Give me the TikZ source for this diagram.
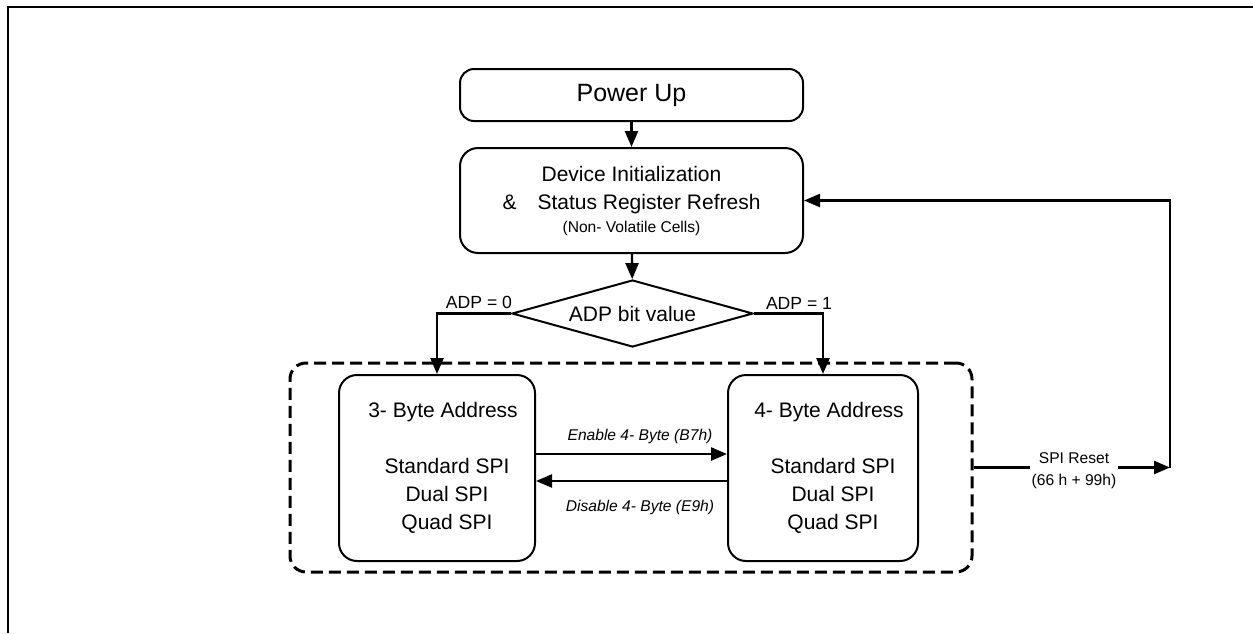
\documentclass[tikz,border=0pt]{standalone}
\usepackage{fontspec}
\setmainfont{Liberation Sans}
\usetikzlibrary{shapes.geometric,arrows.meta,calc}

\tikzset{every picture/.style={line width=1pt}}
\tikzset{
  arr/.style={line width=1.2pt, -{Triangle[length=8pt,width=6.5pt]}},
  flowbox/.style={draw, rounded corners=9pt, align=center, inner sep=0pt, font=\fontsize{10.5}{14}\selectfont},
  lbl/.style={inner sep=0.75pt, align=center, font=\fontsize{7.8}{11}\selectfont},
  adplbl/.style={inner sep=0pt, font=\fontsize{8.8}{11}\selectfont}
}

\begin{document}
\begin{tikzpicture}[x=0.5pt,y=0.5pt,yscale=-1,xscale=1]
\useasboundingbox (0,0) rectangle (1253,633);

%Frame
\draw (7.5,633) -- (7.5,6.5) -- (1253,6.5) ;

%Shape: Terminator
\node (pwr) [draw, rounded corners=7pt, minimum width=171.5pt, minimum height=26pt, inner sep=0pt, font=\fontsize{12.5}{14}\selectfont] at (631.5,95) {Power Up};
%Shape: Process
\node (init) [flowbox, minimum width=171.5pt, minimum height=52.5pt] at (631.5,200.5) {Device Initialization\\ \&\quad Status Register Refresh\\[-2.5pt] {\fontsize{7.8}{10}\selectfont (Non- Volatile Cells)}};
%Shape: Decision
\node (adp) [draw, diamond, aspect=3.6, minimum width=120.5pt, minimum height=33.5pt, inner sep=0pt, font=\fontsize{10.5}{14}\selectfont] at (632.5,313.5) {ADP bit value};
%Shape: Group
\node (grp) [draw, dash pattern=on 6pt off 3pt, line width=1.5pt, rounded corners=8pt, minimum width=341pt, minimum height=104.5pt] at (631,467.5) {};
%Shape: Process
\node (b3) [flowbox, minimum width=98pt, minimum height=93pt] at (437,468) {\hspace{6pt}3- Byte Address\\[14pt] \hspace{10pt}Standard SPI\\ \hspace{10pt}Dual SPI\\ \hspace{10pt}Quad SPI};
%Shape: Process
\node (b4) [flowbox, minimum width=95pt, minimum height=93pt] at (823,468) {\hspace{6pt}4- Byte Address\\[14pt] \hspace{10pt}Standard SPI\\ \hspace{10pt}Dual SPI\\ \hspace{10pt}Quad SPI};
\coordinate (fb) at (1170,467.5);

%Straight Lines
\draw [arr] (pwr) -- (init) ;
\draw [arr] (init) -- (adp) ;
\draw [arr] (adp.west) -| (b3.north) ;
\draw [arr] (adp.east) -| (b4.north) ;
\draw [arr] ($(b3.east)+(0,-14)$) -- ($(b4.west)+(0,-14)$) ;
\draw [arr] ($(b4.west)+(0,13)$) -- ($(b3.east)+(0,13)$) ;
\draw [arr] (grp.east) -- (fb) ;
\draw [arr] (fb) |- (init.east) ;

% Text Node
\draw (513,310) node (a0) [adplbl, anchor=south east] {ADP = 0};
% Text Node
\draw (765,310) node (a1) [adplbl, anchor=south west] {ADP = 1};
% Text Node
\draw (640,436) node (enl) [lbl] {\itshape Enable 4- Byte (B7h)};
% Text Node
\draw (640,507) node (dsl) [lbl] {\itshape Disable 4- Byte (E9h)};
% Text Node
\draw (1074,471) node (rst) [lbl, fill=white] {SPI Reset\\(66 h + 99h)};

\end{tikzpicture}
\end{document}
